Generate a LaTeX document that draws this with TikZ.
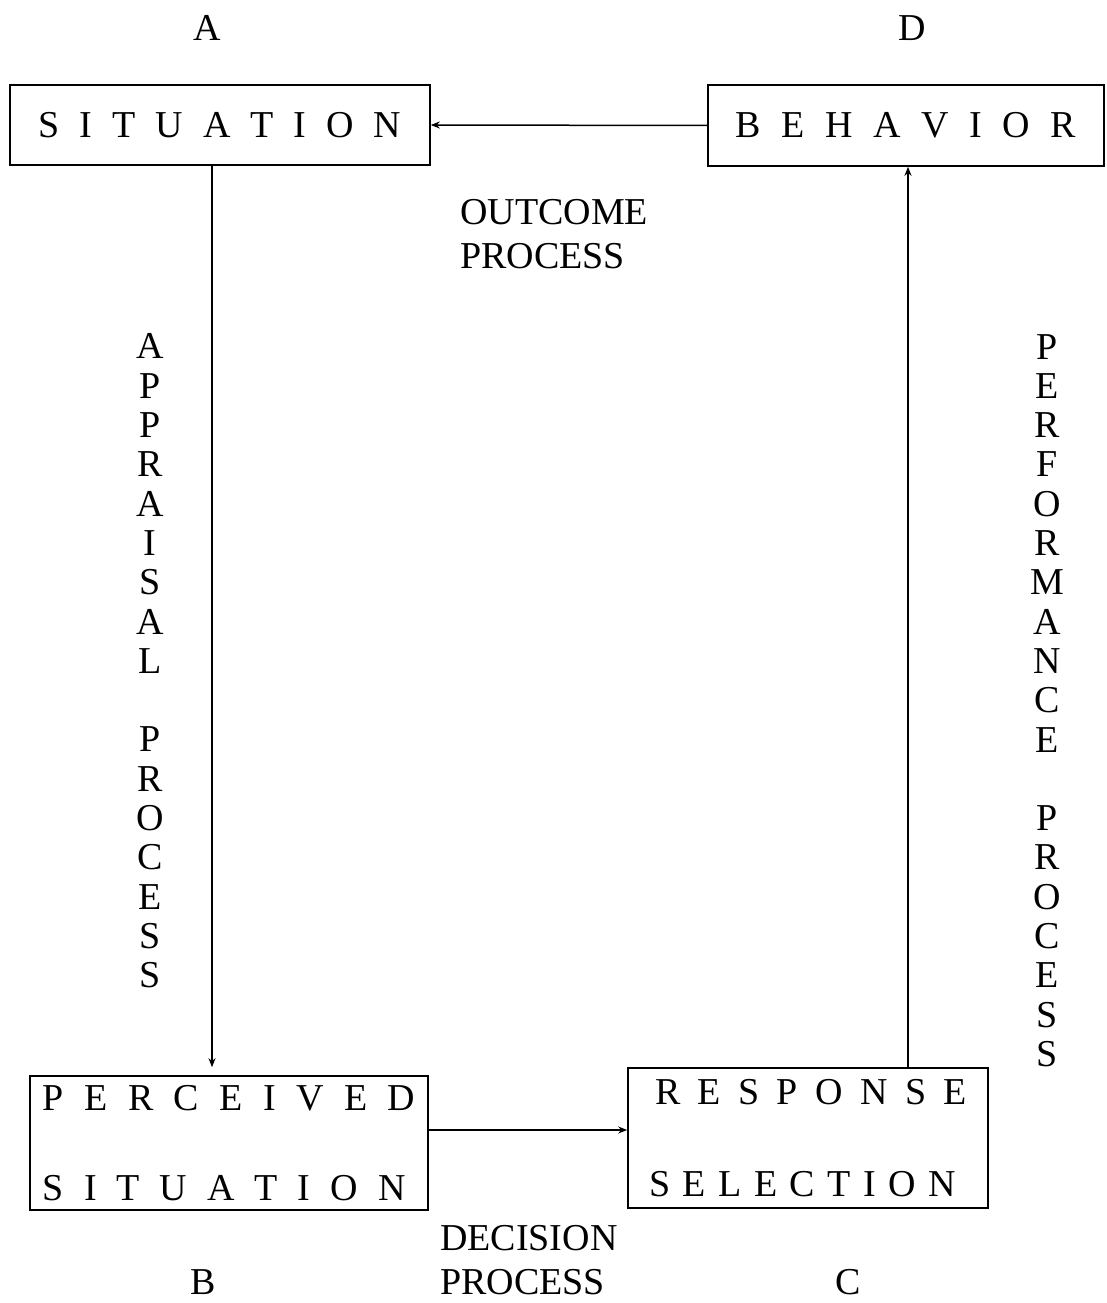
\documentclass[tikz,border=0pt]{standalone}
\usepackage{fontspec}
\setmainfont{Liberation Serif}
\usetikzlibrary{arrows.meta}
\newlength\mylgap
\def\myspaced#1{\ifx#1\relax\else#1\expandafter\mynextspaced\fi}
\def\mynextspaced#1{\ifx#1\relax\else\kern\mylgap#1\expandafter\mynextspaced\fi}
\begin{document}
\begin{tikzpicture}[x=1pt,y=-1pt,
  txt/.style={font=\fontsize{38}{44}\selectfont, inner sep=0pt},
  box/.style={draw, line width=1.6pt, inner sep=0pt, font=\fontsize{38}{40}\selectfont, align=left},
  vert/.style={font=\fontsize{38}{39.3}\selectfont, inner sep=0pt, align=center},
  conn/.style={line width=1.5pt, -{Stealth[length=9pt,width=7pt]}}]
\useasboundingbox (0,0) rectangle (1106,1303);
% corner labels
\node[txt] (lA) at (207,28) {A};
\node[txt] (lD) at (912,28) {D};
\node[txt] (lB) at (203,1282) {B};
\node[txt] (lC) at (848,1282) {C};
% boxes
\node[box, minimum width=420pt, minimum height=80pt] (sit) at (220,125)
  {\mylgap=20pt\myspaced SITUATION\relax};
\node[box, minimum width=396pt, minimum height=81pt] (beh) at (906,125.5)
  {\mylgap=20.6pt\myspaced BEHAVIOR\relax};
\node[box, minimum width=398pt, minimum height=134pt] (perc) at (229,1143)
  {\mylgap=20.4pt\myspaced PERCEIVED\relax\\[50pt]\mylgap=20pt\myspaced SITUATION\relax};
\node[box, minimum width=360pt, minimum height=140pt] (resp) at (808,1138)
  {\hspace*{6pt}\mylgap=17.4pt\myspaced RESPONSE\relax\\[52pt]\mylgap=12.5pt\myspaced SELECTION\relax};
% process labels
\node[txt, align=left, anchor=west] (outc) at (460,234) {OUTCOME\\PROCESS};
\node[txt, align=left, anchor=west] (deci) at (440,1260) {DECISION\\PROCESS};
\node[vert] (appr) at (150,661) {A\\P\\P\\R\\A\\I\\S\\A\\L\\[39.3pt]P\\R\\O\\C\\E\\S\\S};
\node[vert] (perf) at (1047,700.5) {P\\E\\R\\F\\O\\R\\M\\A\\N\\C\\E\\[39.3pt]P\\R\\O\\C\\E\\S\\S};
% connectors
\coordinate (vA) at (212,0);
\coordinate (hB) at (0,1130);
\coordinate (vC) at (908,0);
\draw[conn] (beh.west) -- (sit.east);
\draw[conn, shorten >=8pt] (sit.south -| vA) -- (perc.north -| vA);
\draw[conn] (perc.east |- hB) -- (resp.west |- hB);
\draw[conn] (resp.north -| vC) -- (beh.south -| vC);
\end{tikzpicture}
\end{document}
